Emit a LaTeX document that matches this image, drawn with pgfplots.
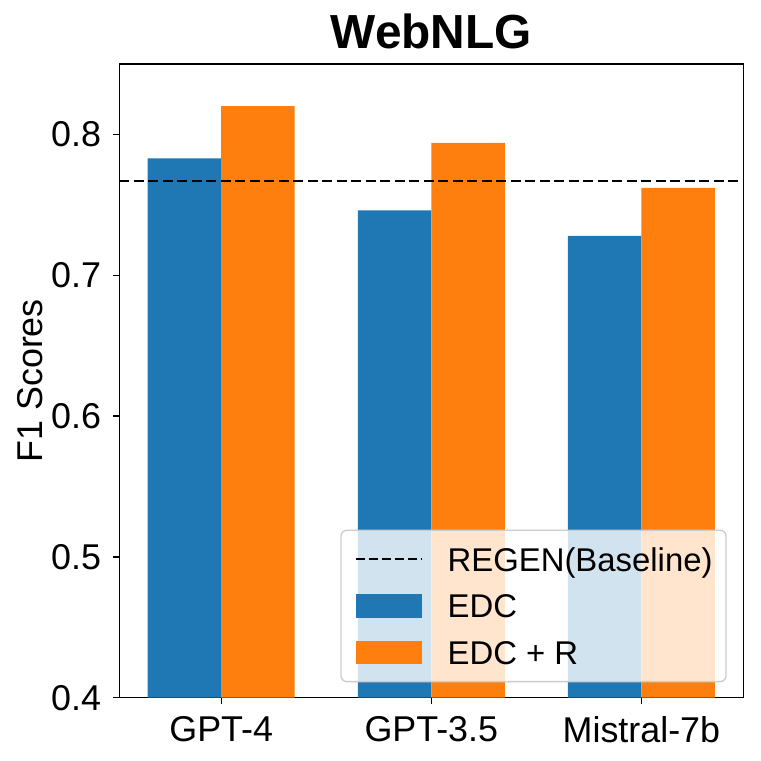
\documentclass[border=0pt]{standalone}
\usepackage{pgfplots}
\pgfplotsset{compat=1.18}
\usepackage{fontspec}
\setmainfont{Liberation Sans}
\definecolor{c0}{HTML}{1F77B4}
\definecolor{c1}{HTML}{FF7F0E}
\definecolor{legframe}{HTML}{CCCCCC}
\begin{document}
\begin{tikzpicture}
\path[use as bounding box] (0,0) rectangle (761bp,761bp);
\begin{axis}[
  at={(119.3bp,63.3bp)}, anchor=south west,
  width=624bp, height=633.7bp, scale only axis,
  xmin=-0.485, xmax=2.485, ymin=0.4, ymax=0.85,
  xtick={0,1,2}, xticklabels={GPT-4,GPT-3.5,Mistral-7b},
  ytick={0.4,0.5,0.6,0.7,0.8},
  scaled y ticks=false,
  /pgf/number format/fixed,
  /pgf/number format/fixed zerofill,
  /pgf/number format/precision=1,
  /pgf/number format/assume math mode=true,
  tick align=outside, tick pos=left,
  major tick length=6bp,
  tick style={line width=1.3bp, black},
  axis line style={line width=1.3bp, black},
  tick label style={font=\fontsize{36}{43}\selectfont, inner sep=0pt},
  xticklabel style={anchor=north, yshift=-12.3bp},
  yticklabel style={anchor=east, xshift=-12bp},
  title={WebNLG},
  title style={at={(axis description cs:0.5,1.01578)}, anchor=base, inner sep=0pt, font=\bfseries\fontsize{48}{58}\selectfont},
  ylabel={F1 Scores},
  ylabel style={at={(axis description cs:-0.1431,0.5)}, anchor=center, inner sep=0pt, font=\fontsize{36}{43}\selectfont},
  legend cell align=left,
  legend style={at={(rel axis cs:1,0)}, anchor=south east, xshift=-16.6bp, yshift=15.4bp,
    draw=legframe, line width=1.3bp, fill=white, fill opacity=0.8, text opacity=1, draw opacity=1,
    rounded corners=6bp, inner xsep=13.5bp, inner ysep=13.9bp, row sep=16.5bp, column sep=25bp,
    font=\fontsize{33}{40}\selectfont,
    nodes={inner sep=0pt, text height=26.9bp, text depth=3.3bp}},
]
\addlegendimage{legend image code/.code={\draw[black, sharp corners, draw opacity=1, line width=2.2bp, dash pattern=on 9bp off 4bp] (0bp,0bp) -- (66bp,0bp);}}
\addlegendentry{REGEN(Baseline)}
\addplot[ybar, bar width=0.35, bar shift=-0.175, fill=c0, draw=none,
  legend image code/.code={\fill[c0, fill opacity=1, sharp corners] (0bp,-11.8bp) rectangle (66bp,11.8bp);}]
  coordinates {(0,0.783) (1,0.746) (2,0.728)};
\addlegendentry{EDC}
\addplot[ybar, bar width=0.35, bar shift=0.175, fill=c1, draw=none,
  legend image code/.code={\fill[c1, fill opacity=1, sharp corners] (0bp,-11.8bp) rectangle (66bp,11.8bp);}]
  coordinates {(0,0.820) (1,0.794) (2,0.762)};
\addlegendentry{EDC + R}
\addplot[black, line width=2.5bp, dash pattern=on 10bp off 4.5bp, forget plot]
  coordinates {(-0.485,0.767) (2.485,0.767)};
\end{axis}
\end{tikzpicture}
\end{document}
